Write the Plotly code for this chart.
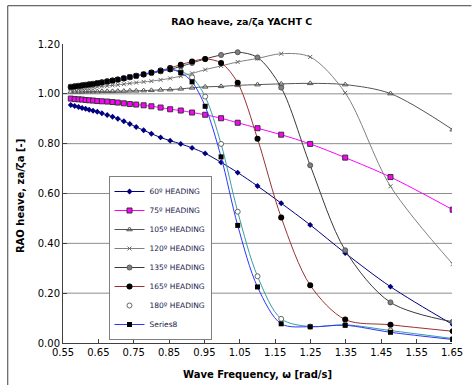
import plotly.graph_objects as go

# Wave frequency [rad/s] shared by every heading
FREQ = [0.572, 0.583, 0.594, 0.604, 0.614, 0.624, 0.635, 0.647, 0.660, 0.675,
        0.690, 0.705, 0.722, 0.739, 0.757, 0.778, 0.800, 0.826, 0.853, 0.883,
        0.915, 0.952, 0.997, 1.044, 1.100, 1.167, 1.249, 1.348, 1.476, 1.652]

# Heave RAO za/ζa for each heading
H60 = [0.955, 0.951, 0.947, 0.943, 0.940, 0.936, 0.932, 0.928, 0.922, 0.915,
       0.908, 0.900, 0.890, 0.879, 0.867, 0.854, 0.840, 0.825, 0.812, 0.799,
       0.783, 0.761, 0.725, 0.684, 0.630, 0.561, 0.474, 0.361, 0.226, 0.074]
H75 = [0.981, 0.979, 0.978, 0.977, 0.975, 0.974, 0.973, 0.971, 0.970, 0.969,
       0.967, 0.965, 0.962, 0.959, 0.957, 0.954, 0.950, 0.945, 0.938, 0.933,
       0.925, 0.916, 0.902, 0.884, 0.862, 0.836, 0.799, 0.744, 0.666, 0.535]
H105 = [1.008, 1.008, 1.008, 1.008, 1.009, 1.009, 1.009, 1.009, 1.010, 1.010,
        1.010, 1.011, 1.011, 1.012, 1.012, 1.013, 1.014, 1.016, 1.017, 1.020,
        1.024, 1.028, 1.030, 1.034, 1.037, 1.040, 1.042, 1.037, 1.001, 0.856]
H120 = [1.020, 1.021, 1.022, 1.023, 1.024, 1.025, 1.026, 1.028, 1.030, 1.032,
        1.034, 1.036, 1.039, 1.042, 1.045, 1.048, 1.051, 1.056, 1.062, 1.071,
        1.082, 1.097, 1.112, 1.128, 1.142, 1.161, 1.148, 1.004, 0.629, 0.317]
H135 = [1.027, 1.029, 1.031, 1.033, 1.035, 1.037, 1.039, 1.042, 1.045, 1.049,
        1.053, 1.057, 1.061, 1.066, 1.071, 1.077, 1.083, 1.090, 1.098, 1.110,
        1.124, 1.140, 1.156, 1.167, 1.146, 1.025, 0.713, 0.372, 0.163, 0.085]
H165 = [1.028, 1.030, 1.032, 1.034, 1.036, 1.038, 1.040, 1.043, 1.046, 1.050,
        1.054, 1.058, 1.063, 1.068, 1.073, 1.079, 1.086, 1.094, 1.104, 1.117,
        1.130, 1.140, 1.124, 1.044, 0.820, 0.504, 0.232, 0.094, 0.073, 0.047]
H180 = [1.027, 1.029, 1.031, 1.033, 1.035, 1.037, 1.039, 1.042, 1.045, 1.049,
        1.053, 1.057, 1.062, 1.067, 1.072, 1.078, 1.085, 1.092, 1.098, 1.090,
        1.066, 0.989, 0.799, 0.527, 0.268, 0.097, 0.066, 0.073, 0.050, 0.018]
SERIES8 = [1.027, 1.029, 1.031, 1.033, 1.035, 1.037, 1.039, 1.042, 1.045, 1.049,
           1.053, 1.057, 1.062, 1.067, 1.072, 1.078, 1.085, 1.092, 1.098, 1.085,
           1.048, 0.950, 0.747, 0.472, 0.225, 0.077, 0.065, 0.071, 0.043, 0.014]

NAMES = ["60º HEADING", "75º HEADING", "105º HEADING", "120º HEADING",
         "135º HEADING", "165º HEADING", "180º HEADING", "Series8"]

X_TICKS = [0.55, 0.65, 0.75, 0.85, 0.95, 1.05, 1.15, 1.25, 1.35, 1.45, 1.55, 1.65]
Y_TICKS = [0.0, 0.2, 0.4, 0.6, 0.8, 1.0, 1.2]
GRID_Y = [0.2, 0.4, 0.6, 0.8, 1.0]

FONT = "DejaVu Sans"

fig = go.Figure()


def add(name, y, line_color, marker, legend=True, mode="lines+markers"):
    fig.add_trace(go.Scatter(
        x=FREQ, y=y, name=name, mode=mode, showlegend=legend,
        line=dict(color=line_color, width=1, shape="spline", smoothing=0.9),
        marker=marker,
    ))


add(NAMES[0], H60, "#000080",
    dict(symbol="diamond", size=4.5, color="#000080", line=dict(width=0)))
add(NAMES[1], H75, "#FF00FF",
    dict(symbol="square", size=5, color="#FF00FF", line=dict(width=1, color="#333333")))
add(NAMES[2], H105, "#555555",
    dict(symbol="triangle-up-open", size=5, color="#555555", line=dict(width=1)))
add(NAMES[3], H120, "#808080",
    dict(symbol="x-thin-open", size=4, color="#666666", line=dict(width=1, color="#666666")))
add(NAMES[4], H135, "#3a3a3a",
    dict(symbol="circle", size=5, color="#808080", line=dict(width=1, color="#555555")))
add(NAMES[5], H165, "#993333",
    dict(symbol="circle", size=6, color="#000000", line=dict(width=0)))
# 180º heading: teal connecting curve plus open-circle markers
add(NAMES[6], H180, "#33A0A0", dict(size=0), legend=False, mode="lines")
add(NAMES[6], H180, "#33A0A0",
    dict(symbol="circle", size=5, color="#FFFFFF", line=dict(width=1, color="#666666")),
    mode="markers")
add(NAMES[7], SERIES8, "#3333FF",
    dict(symbol="square", size=5, color="#000000", line=dict(width=0)))

shapes = []
for g in GRID_Y:
    shapes.append(dict(type="line", xref="paper", yref="y", x0=0, x1=1, y0=g, y1=g,
                       line=dict(color="#8c8c8c", width=1), layer="below"))
# outer chart frame (top and left edges)
shapes.append(dict(type="line", xref="paper", yref="paper", x0=-0.142, x1=1.05,
                   y0=1.128, y1=1.128, line=dict(color="#404040", width=1)))
shapes.append(dict(type="line", xref="paper", yref="paper", x0=-0.142, x1=-0.142,
                   y0=1.128, y1=-0.15, line=dict(color="#404040", width=1)))

fig.update_layout(
    width=475, height=385, autosize=False,
    margin=dict(l=63, r=18, t=44, b=42, pad=0),
    paper_bgcolor="white", plot_bgcolor="white",
    font=dict(family=FONT, size=10, color="#000000"),
    title=dict(text="<b>RAO heave, za/ζa YACHT C</b>", xref="container", x=0.509,
               xanchor="center", yref="container", y=0.943, yanchor="middle",
               font=dict(family=FONT, size=9.5, color="#000000")),
    xaxis=dict(range=[0.55, 1.65], tickvals=X_TICKS, tickformat=".2f",
               ticks="inside", ticklen=4, tickcolor="#404040",
               showline=True, linecolor="#404040", linewidth=1,
               showgrid=False, zeroline=False,
               tickfont=dict(family=FONT, size=10, color="#000000")),
    yaxis=dict(range=[0, 1.2], tickvals=Y_TICKS, tickformat=".2f",
               ticks="inside", ticklen=4, tickcolor="#404040",
               showline=True, linecolor="#404040", linewidth=1,
               showgrid=False, zeroline=False,
               tickfont=dict(family=FONT, size=10, color="#000000")),
    legend=dict(x=0.117, y=0.01, xanchor="left", yanchor="bottom",
                bgcolor="white", bordercolor="#808080", borderwidth=1,
                font=dict(family=FONT, size=7.5, color="#1a1a4a"),
                tracegroupgap=0, itemwidth=30),
    shapes=shapes,
    annotations=[
        dict(text="<b>Wave Frequency, ω [rad/s]</b>", xref="paper", yref="paper",
             x=0.5, y=-0.106, xanchor="center", yanchor="middle", showarrow=False,
             font=dict(family=FONT, size=10, color="#000000")),
        dict(text="<b>RAO heave, za/ζa [-]</b>", xref="paper", yref="paper",
             x=-0.109, y=0.49, xanchor="center", yanchor="middle", showarrow=False,
             textangle=-90, font=dict(family=FONT, size=10, color="#000000")),
    ],
)

fig.write_html("out.html")
